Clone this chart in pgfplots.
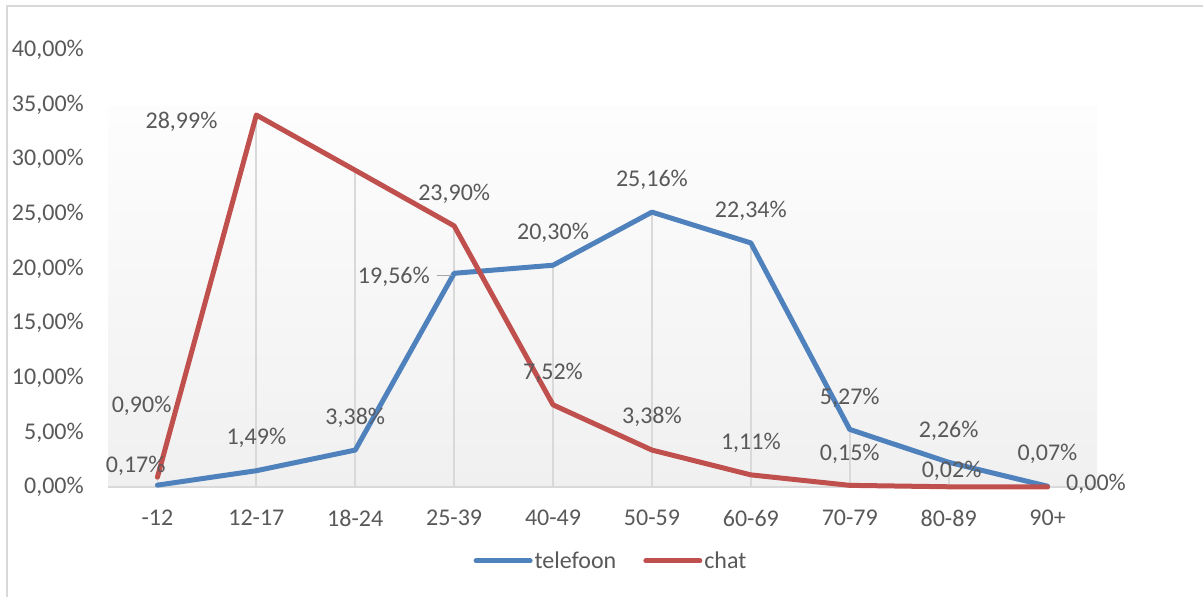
\documentclass[border=0pt]{standalone}
\usepackage{fontspec}
\setmainfont{Carlito}
\usepackage{pgfplots}
\pgfplotsset{compat=1.18}
\definecolor{tgray}{HTML}{595959}
\definecolor{tblue}{HTML}{4F81BD}
\definecolor{tred}{HTML}{C0504D}
\definecolor{lgray}{HTML}{D9D9D9}
\definecolor{gtop}{HTML}{FDFDFD}
\definecolor{gbot}{HTML}{F0F0F0}
\newcommand{\lbl}{\fontsize{24}{28}\selectfont}
\begin{document}
\begin{tikzpicture}[x=1pt,y=1pt]
\useasboundingbox (0,0) rectangle (1203,597);
\fill[white] (0,0) rectangle (1203,597);
\draw[lgray, line width=2pt] (7,-20) rectangle (1230,591);
\begin{axis}[
  at={(108pt,110pt)}, anchor=south west,
  scale only axis, width=989pt, height=437pt,
  xmin=-0.5, xmax=9.5, ymin=0, ymax=40,
  clip=false,
  axis line style={draw=none},
  major tick length=0pt,
  xtick={0,...,9},
  xticklabels={-12,12-17,18-24,25-39,40-49,50-59,60-69,70-79,80-89,90+},
  ytick={0,5,...,40},
  yticklabels={{0,00\%},{5,00\%},{10,00\%},{15,00\%},{20,00\%},{25,00\%},{30,00\%},{35,00\%},{40,00\%}},
  tick label style={font=\lbl, text=tgray},
  yticklabel style={inner sep=0pt, anchor=east, xshift=-24pt},
  xticklabel style={inner sep=0pt, anchor=north, yshift=-23pt},
  legend style={at={(0.5086,-0.169)}, anchor=center, draw=none, fill=none,
    font=\lbl, text=tgray, legend columns=2,
    nodes={inner sep=2pt},
    /tikz/every even column/.append style={column sep=25pt}},
  legend image code/.code={\draw[#1, line cap=round] (0pt,0pt) -- (54pt,0pt);},
]
\fill[top color=gtop, bottom color=gbot] (axis cs:-0.5,0) rectangle (axis cs:9.5,34.8);
\draw[lgray, line width=2pt] (axis cs:-0.5,0) -- (axis cs:9.5,0);
\addplot[ycomb, lgray, line width=1.8pt, forget plot] coordinates {
  (0,0.90) (1,34.05) (2,28.99) (3,23.90) (4,20.30) (5,25.16) (6,22.34) (7,5.27) (8,2.26) (9,0.07)};
\addplot[tblue, line width=5pt, line cap=round, line join=round] coordinates {
  (0,0.17) (1,1.49) (2,3.38) (3,19.56) (4,20.30) (5,25.16) (6,22.34) (7,5.27) (8,2.26) (9,0.07)};
\addlegendentry{telefoon}
\addplot[tred, line width=5pt, line cap=round, line join=round] coordinates {
  (0,0.90) (1,34.05) (2,28.99) (3,23.90) (4,7.52) (5,3.38) (6,1.11) (7,0.15) (8,0.02) (9,0.00)};
\addlegendentry{chat}
\draw[gray!70, line width=1pt] (axis cs:2.83,19.4) -- (axis cs:2.98,19.4);
\begin{scope}[every node/.style={font=\lbl, text=tgray, inner sep=0pt, anchor=center}]
\node at (axis cs:-0.22,1.92) {0,17\%};
\node at (axis cs:-0.16,7.41) {0,90\%};
\node at (axis cs:1,4.49) {1,49\%};
\node at (axis cs:0.243,33.4) {28,99\%};
\node at (axis cs:2,6.32) {3,38\%};
\node at (axis cs:3,26.8) {23,90\%};
\node at (axis cs:2.39,19.2) {19,56\%};
\node at (axis cs:4,23.25) {20,30\%};
\node at (axis cs:4,10.43) {7,52\%};
\node at (axis cs:5,28.1) {25,16\%};
\node at (axis cs:5,6.4) {3,38\%};
\node at (axis cs:6,25.26) {22,34\%};
\node at (axis cs:6,4.03) {1,11\%};
\node at (axis cs:7,8.15) {5,27\%};
\node at (axis cs:7,3.02) {0,15\%};
\node at (axis cs:8,5.13) {2,26\%};
\node at (axis cs:8.03,1.46) {0,02\%};
\node at (axis cs:9,3.02) {0,07\%};
\node at (axis cs:9.49,0.33) {0,00\%};
\end{scope}
\end{axis}
\end{tikzpicture}
\end{document}
